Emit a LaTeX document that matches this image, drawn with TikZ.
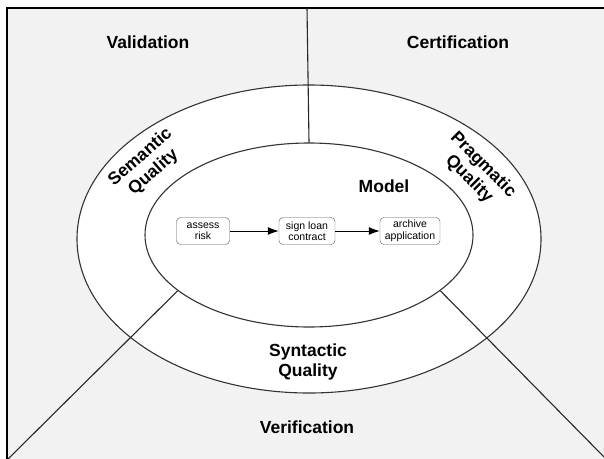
\documentclass[tikz,border=0pt]{standalone}
\usepackage{fontspec}
\setmainfont{Liberation Sans}
\usetikzlibrary{shapes.geometric,arrows.meta}

\begin{document}
\begin{tikzpicture}[x=1pt,y=-1pt,
    area/.style={font=\fontsize{17.5}{20}\selectfont\bfseries},
    ring/.style={ellipse,draw=black!80,line width=1.1pt,fill=white,inner sep=0pt},
    task/.style={draw=black!65,rounded corners=4pt,fill=white,align=center,
        font=\fontsize{10.5}{11.5}\selectfont,inner sep=1pt,minimum height=27pt},
    flow/.style={line width=1pt,-{Latex[length=11pt,width=8pt]}}]
    \useasboundingbox (0,0) rectangle (604,458);
    \clip (0,0) rectangle (604,458);

    \coordinate (Corner) at (7,8);
    \coordinate (Far) at (640,490);
    \coordinate (TopMid) at (307,8);
    \coordinate (LeftEnd) at (8,459);
    \coordinate (RightEnd) at (606,459);

    \draw [line width=2pt,fill=black!5] (Corner) rectangle (Far);

    \node[ring,minimum width=464pt,minimum height=308pt] (Outer) at (309,239) {};

    \node[ring,minimum width=328pt,minimum height=184pt] (Inner) at (309,235) {};
    \draw [line width=1.1pt,black!85] (Inner.203) -- (LeftEnd);
    \draw [line width=1.1pt,black!85] (Inner.-23) -- (RightEnd);
    \draw [line width=1.1pt,black!85] (TopMid) -- (Inner.north);

    \node[area] (valid) at (148,42) {Validation};
    \node[area] (cert) at (458,42) {Certification};
    \node[area] (verif) at (307,427) {Verification};

    \node[area,align=center,rotate=41] (sem) at (147,165) {Semantic\\Quality};
    \node[area,align=center,rotate=-45] (prag) at (476,172) {Pragmatic\\Quality};
    \node[area,align=center] (syn) at (308,362) {Syntactic\\Quality};
    \node[area] (model) at (384,186) {Model};

    \node[task,minimum width=53pt] (assess) at (203,231) {assess\\risk};
    \node[task,minimum width=56pt] (sign) at (307,231) {sign loan\\contract};
    \node[task,minimum width=60pt] (archive) at (410,231) {archive\\application};

    \draw [flow] (assess) -- (sign);
    \draw [flow] (sign) -- (archive);
\end{tikzpicture}
\end{document}
